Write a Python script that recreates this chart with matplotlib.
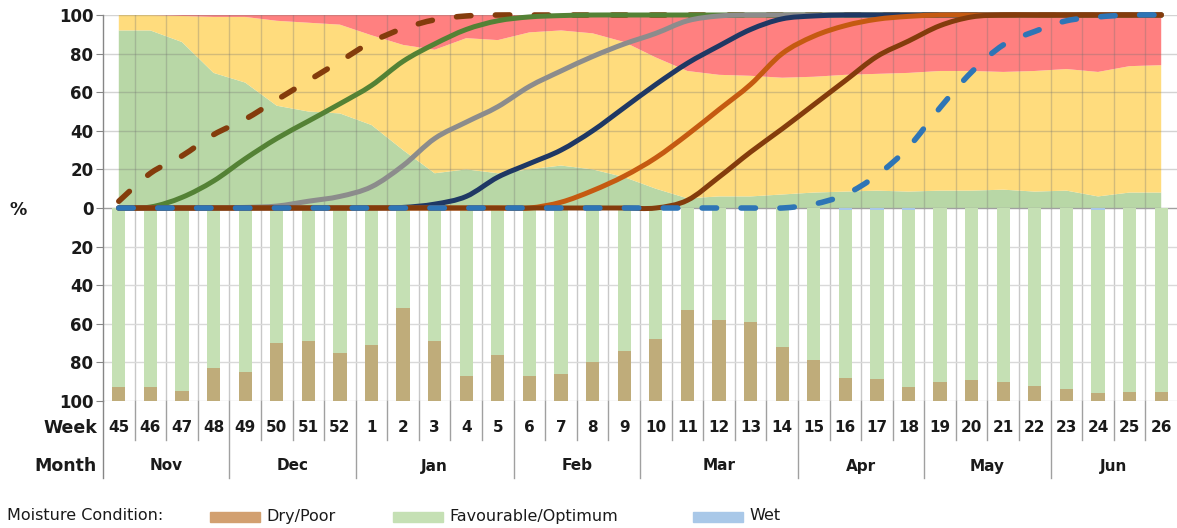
import matplotlib
matplotlib.use("Agg")
import matplotlib.pyplot as plt
import matplotlib.transforms as mtransforms
from matplotlib.patches import Rectangle, PathPatch
from matplotlib.path import Path
import numpy as np

# ---------------- data ----------------
weeks = [45, 46, 47, 48, 49, 50, 51, 52, 1, 2, 3, 4, 5, 6, 7, 8, 9, 10, 11, 12,
         13, 14, 15, 16, 17, 18, 19, 20, 21, 22, 23, 24, 25, 26]
months = ["Nov", "Dec", "Jan", "Feb", "Mar", "Apr", "May", "Jun"]
weeks_per_month = [4, 4, 5, 4, 5, 4, 4, 4]

# stacked background areas (% of area)
area_green = [92, 92, 86, 70, 65, 53, 50, 49, 43, 30, 18, 20, 18, 20, 22, 20, 16, 10, 5, 6,
              6, 7, 8, 8.5, 9, 8.5, 9, 9, 9.5, 8.5, 9, 6, 8, 8]
area_yellow = [8, 8, 13.5, 29, 34, 44, 46, 46, 46.5, 54.5, 64, 68, 69, 71, 70, 70.5, 70, 68, 66, 63,
               62.5, 60.5, 60, 60.5, 60.5, 61.5, 62, 62, 61, 62.5, 63, 64.5, 65.5, 66]
area_red = [0, 0, 0.5, 1, 1, 3, 4, 5, 10.5, 15.5, 18, 12, 13, 9, 8, 9.5, 14, 22, 29, 31,
            31.5, 32.5, 32, 31, 30.5, 30, 29, 29, 29.5, 29, 28, 29.5, 26.5, 26]

# cumulative progress curves (%)
line_brown_dashed = [3.5, 18, 27, 38, 46, 56, 66, 76, 86, 93, 97.5, 99.5] + [100] * 22
line_green = [0, 0.5, 5.5, 14, 25.5, 36, 45, 54, 63.5, 76, 85, 92.5, 97, 99, 99.7] + [100] * 19
line_gray = [0, 0, 0, 0, 0.3, 1, 3.5, 6, 11, 22, 36, 44.5, 52.5, 63, 71, 78.5, 85, 90.5, 97, 99.5] + [100] * 14
line_navy = [0] * 9 + [0.3, 2, 6, 16, 23, 30, 40, 52, 64, 75, 84, 92.5, 98, 99.5] + [100] * 11
line_orange = [0] * 14 + [3, 9, 16.5, 26, 38, 51, 64, 80, 89, 94.5, 97.8, 99.3] + [100] * 8
line_brown = [0] * 18 + [4, 16, 29, 41, 53.5, 66, 78.5, 86.5, 94.5, 99] + [100] * 6
line_blue_dashed = [0] * 22 + [2, 7, 17, 31.5, 52, 70.5, 84.5, 91.5, 97, 99, 100, 100]

# moisture condition bars (%)
dry = [7, 7, 5, 17, 15, 30, 31, 25, 29, 48, 31, 13, 24, 13, 14, 20, 26, 32, 47, 42,
       41, 28, 21, 12, 11.5, 7.5, 10, 11, 10, 8, 6, 4, 4.6, 4.6]
wet = [0] * 23 + [1, 1, 1, 0, 0, 0, 0, 0, 1, 0, 0]
favourable = [100 - d - w for d, w in zip(dry, wet)]

# ---------------- figure ----------------
W, H = 1177, 528
fig = plt.figure(figsize=(W / 100, H / 100), dpi=100)
ax_left, ax_right, ax_top, ax_bottom = 103, 1177, 15, 401
ax = fig.add_axes([ax_left / W, (H - ax_bottom) / H, (ax_right - ax_left) / W, (ax_bottom - ax_top) / H])

n = len(weeks)
x = np.arange(n)

# background stacked areas
ax.stackplot(x, area_green, area_yellow, area_red,
             colors=["#B8D7A6", "#FFDC7D", "#FF8080"], linewidth=0, zorder=1)

# gridlines
for k in range(1, n):
    ax.plot([k - 0.5, k - 0.5], [0, 100], color="#707070", alpha=0.3, zorder=2, lw=1.0)
    ax.plot([k - 0.5, k - 0.5], [-100, 0], color="#C8C8C8", zorder=0.5, lw=1.0)
for yv in range(20, 101, 20):
    ax.plot([-0.5, n - 0.5], [yv, yv], color="#707070", alpha=0.3, zorder=2, lw=1.0)
    ax.plot([-0.5, n - 0.5], [-yv, -yv], color="#D9D9D9", zorder=0.5, lw=1.0)
ax.plot([-0.5, n - 0.5], [0, 0], color="#A0A0A0", lw=1.0, zorder=2)

# bars (hanging below zero)
bw = 0.42
wet_neg = [-w for w in wet]
fav_neg = [-f for f in favourable]
dry_neg = [-d for d in dry]
ax.bar(x, wet_neg, width=bw, color="#A9C8E8", zorder=3)
ax.bar(x, fav_neg, width=bw, bottom=wet_neg, color="#C5E0B4", zorder=3)
ax.bar(x, dry_neg, width=bw, bottom=[-100 + d for d in dry], color="#BFAC7A", zorder=3)


# smoothed line rendering (Excel-style smooth line through the data points)
def smooth_path(xs, ys):
    p = np.column_stack([np.asarray(xs, float), np.asarray(ys, float)])
    verts = [p[0]]
    codes = [Path.MOVETO]
    m = len(p)
    for i in range(m - 1):
        p0 = p[i - 1] if i > 0 else p[i]
        p1 = p[i]
        p2 = p[i + 1]
        p3 = p[i + 2] if i + 2 < m else p[i + 1]
        c1 = p1 + (p2 - p0) / 6.0
        c2 = p2 - (p3 - p1) / 6.0
        verts += [c1, c2, p2]
        codes += [Path.CURVE4] * 3
    return Path(np.array(verts), codes)


def draw_line(ys, color, lw, dashed=False, z=5):
    kw = dict(facecolor="none", edgecolor=color, lw=lw, zorder=z, clip_on=False,
              capstyle="round", joinstyle="round")
    if dashed:
        kw["linestyle"] = (0, (2.6, 4.4))
    ax.add_patch(PathPatch(smooth_path(x, ys), **kw))


lw = 3.6
draw_line(line_brown_dashed, "#843C0C", 4.0, dashed=True)
draw_line(line_green, "#548235", lw)
draw_line(line_gray, "#8C8C8C", lw)
draw_line(line_navy, "#1F3864", lw)
draw_line(line_orange, "#C55A11", lw)
draw_line(line_brown, "#843C0C", lw)
draw_line(line_blue_dashed, "#2E75B6", 4.0, dashed=True, z=6)

ax.set_xlim(-0.5, n - 0.5)
ax.set_ylim(-100, 100)

# axes styling
for s in ["top", "right", "bottom"]:
    ax.spines[s].set_visible(False)
ax.spines["left"].set_color("#868686")
ax.spines["left"].set_linewidth(1.0)
ax.set_xticks([])
yt = list(range(-100, 101, 20))
ax.set_yticks(yt)
ax.set_yticklabels([str(abs(v)) for v in yt], fontsize=12, fontweight="bold",
                   fontfamily="DejaVu Sans", color="#1a1a1a")
ax.tick_params(axis="y", length=5, color="#868686", pad=2)

# week / month rows
trans = mtransforms.blended_transform_factory(ax.transData, ax.transAxes)
ph = ax_bottom - ax_top


def ay(ypix):
    return (ax_bottom - ypix) / ph


month_bounds = np.cumsum(weeks_per_month)[:-1]
for k in range(1, n):
    y_end = 478 if k in month_bounds else 440
    ax.plot([k - 0.5, k - 0.5], [ay(401), ay(y_end)], transform=trans,
            color="#A0A0A0", lw=1.0, clip_on=False)
ax.plot([-0.5, -0.5], [ay(401), ay(478)], transform=trans, color="#868686", lw=1.0, clip_on=False)

for i, wk in enumerate(weeks):
    ax.text(i, ay(428), str(wk), transform=trans, ha="center", va="center",
            fontsize=11, fontweight="bold", color="#1a1a1a")

start = 0
for m, cnt in zip(months, weeks_per_month):
    ax.text(start + (cnt - 1) / 2, ay(466), m, transform=trans, ha="center", va="center",
            fontsize=11, fontweight="bold", color="#1a1a1a")
    start += cnt

fig.text(97 / W, 1 - 428 / H, "Week", ha="right", va="center", fontsize=12.5,
         fontweight="bold", color="#1a1a1a")
fig.text(97 / W, 1 - 466 / H, "Month", ha="right", va="center", fontsize=12.5,
         fontweight="bold", color="#1a1a1a")
fig.text(10 / W, 1 - 210 / H, "%", ha="left", va="center", fontsize=12.5,
         fontweight="bold", color="#1a1a1a")

# legend
ly = 516
fig.text(7 / W, 1 - ly / H, "Moisture Condition:", ha="left", va="center",
         fontsize=11.5, color="#1a1a1a")
leg_items = [("Dry/Poor", "#D2A070", 210), ("Favourable/Optimum", "#C5E0B4", 393), ("Wet", "#A9C8E8", 693)]
for label, col, x0 in leg_items:
    fig.patches.append(Rectangle((x0 / W, 1 - 522 / H), 50 / W, 10 / H,
                                 transform=fig.transFigure, color=col, figure=fig))
    fig.text((x0 + 56) / W, 1 - ly / H, label, ha="left", va="center",
             fontsize=11.5, color="#1a1a1a")

fig.savefig("out.png", dpi=100)
